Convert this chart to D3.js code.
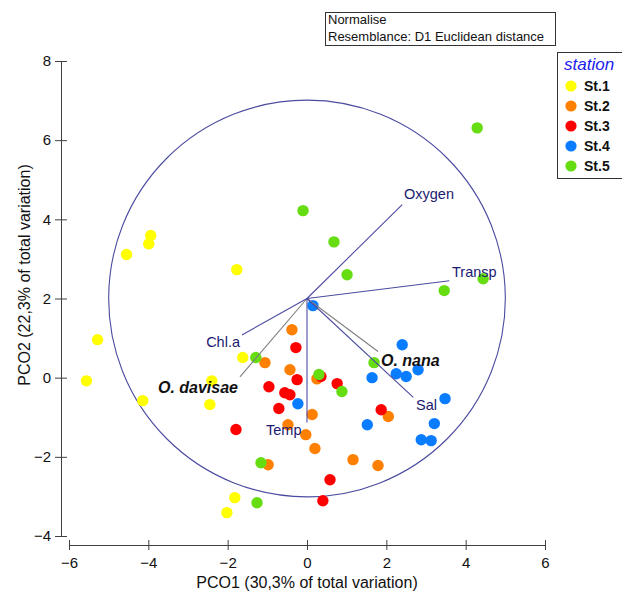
<!DOCTYPE html>
<html><head><meta charset="utf-8">
<script src="https://cdn.jsdelivr.net/npm/d3@7"></script>
<style>body{margin:0;background:#fff}svg{display:block;font-family:"Liberation Sans",Arial,sans-serif}</style>
</head><body><svg id="c" width="622" height="591"></svg>
<script>
const stations = ["St.1","St.2","St.3","St.4","St.5"];
const stationColors = ["#ffff00","#ff7f00","#ff0000","#0a7cff","#66dd11"];
const st1 = [[-3.94,3.59],[-3.99,3.38],[-4.55,3.11],[-1.77,2.73],[-5.28,0.96],[-5.56,-0.08],[-4.14,-0.58],[-2.40,-0.08],[-2.45,-0.68],[-1.62,0.51],[-1.82,-3.03],[-2.02,-3.41]];
const st2 = [[-0.38,1.21],[-1.06,0.38],[-0.43,0.20],[0.25,-0.03],[0.13,-0.93],[-0.48,-1.19],[-0.03,-1.44],[0.20,-1.79],[-0.98,-2.20],[1.16,-2.07],[1.79,-2.22],[2.05,-0.98]];
const st3 = [[-0.28,0.76],[-0.25,-0.05],[-0.96,-0.23],[-0.56,-0.38],[-0.43,-0.43],[-0.71,-0.78],[-1.79,-1.31],[0.35,0.03],[0.76,-0.15],[1.87,-0.81],[0.58,-2.58],[0.40,-3.11]];
const st4 = [[0.15,1.82],[-0.23,-0.66],[1.52,-1.19],[1.64,0.00],[2.40,0.83],[2.25,0.10],[2.50,0.03],[2.80,0.20],[3.48,-0.53],[3.21,-1.16],[2.88,-1.57],[3.13,-1.59]];
const st5 = [[4.29,6.31],[-0.10,4.22],[0.68,3.43],[1.01,2.60],[3.46,2.20],[4.44,2.50],[-1.29,0.51],[0.30,0.08],[0.88,-0.35],[1.69,0.38],[-1.16,-2.15],[-1.26,-3.16]];
const seriesValues = [st1, st2, st3, st4, st5];
const vectorOrigin = [0, 2];
const circleRadius = 5;
const envVectors = [
  {name:"Oxygen", end:[2.40,4.37]},
  {name:"Transp", end:[3.59,2.45]},
  {name:"Chl.a", end:[-1.64,1.08]},
  {name:"Temp", end:[0,-1.13]},
  {name:"Sal", end:[2.68,-0.50]}
];
const speciesVectors = [
  {name:"O. nana", end:[1.79,0.66]},
  {name:"O. davisae", end:[-1.69,0.02]}
];
const xTicks = [-6,-4,-2,0,2,4,6];
const yTicks = [-4,-2,0,2,4,6,8];
const xTitle = "PCO1 (30,3% of total variation)";
const yTitle = "PCO2 (22,3% of total variation)";
const noteLines = ["Normalise","Resemblance: D1 Euclidean distance"];

const svg = d3.select("#c");
const x = d3.scaleLinear().domain([-6,6]).range([69,545]);
const y = d3.scaleLinear().domain([-4,8]).range([536,61]);
const axisColor = "#404040";

// X axis
const gx = svg.append("g").attr("transform","translate(0,545)")
  .call(d3.axisBottom(x).tickValues(xTicks).tickSize(5).tickSizeOuter(0).tickFormat(d3.format("d")));
gx.select(".domain").attr("stroke",axisColor);
gx.selectAll(".tick line").attr("y1",-5).attr("stroke",axisColor);
gx.selectAll(".tick text").attr("font-size",15).attr("fill","#111").attr("font-family","Liberation Sans, Arial").attr("dy","1em");
// Y axis
const gy = svg.append("g").attr("transform","translate(61,0)")
  .call(d3.axisLeft(y).tickValues(yTicks).tickSize(6).tickSizeOuter(0).tickFormat(d3.format("d")));
gy.select(".domain").attr("stroke",axisColor);
gy.selectAll(".tick line").attr("x1",6).attr("stroke",axisColor);
gy.selectAll(".tick text").attr("font-size",15).attr("fill","#111").attr("font-family","Liberation Sans, Arial").attr("x",-10);

svg.append("text").attr("x",307).attr("y",588).attr("text-anchor","middle").attr("font-size",16).attr("fill","#111").text(xTitle);
svg.append("text").attr("transform","translate(30,275) rotate(-90)").attr("text-anchor","middle").attr("font-size",16).attr("fill","#111").text(yTitle);

// circle
const cx = x(vectorOrigin[0]), cy = y(vectorOrigin[1]);
svg.append("circle").attr("cx",cx).attr("cy",cy).attr("r",x(circleRadius)-x(0))
  .attr("fill","none").attr("stroke","#4b4ba0").attr("stroke-width",1.1);

// points
stations.forEach((s,i)=>{
  svg.append("g").selectAll("circle").data(seriesValues[i]).join("circle")
    .attr("cx",d=>x(d[0])).attr("cy",d=>y(d[1])).attr("r",5.7).attr("fill",stationColors[i]);
});

// vectors
svg.append("g").selectAll("line").data(speciesVectors).join("line")
  .attr("x1",cx).attr("y1",cy).attr("x2",d=>x(d.end[0])).attr("y2",d=>y(d.end[1]))
  .attr("stroke","#808080").attr("stroke-width",1.1);
svg.append("g").selectAll("line").data(envVectors).join("line")
  .attr("x1",cx).attr("y1",cy).attr("x2",d=>x(d.end[0])).attr("y2",d=>y(d.end[1]))
  .attr("stroke","#4b4ba0").attr("stroke-width",1.1);

const envLabelPos = {"Oxygen":[404,199,"start"],"Transp":[452,277,"start"],"Chl.a":[240,347,"end"],"Temp":[266,435,"start"],"Sal":[416,410,"start"]};
svg.append("g").selectAll("text").data(envVectors).join("text")
  .attr("x",d=>envLabelPos[d.name][0]).attr("y",d=>envLabelPos[d.name][1]).attr("text-anchor",d=>envLabelPos[d.name][2])
  .attr("font-size",14.5).attr("fill","#1a1a70").text(d=>d.name);
const spLabelPos = {"O. nana":[381,366,"start"],"O. davisae":[238,393,"end"]};
svg.append("g").selectAll("text").data(speciesVectors).join("text")
  .attr("x",d=>spLabelPos[d.name][0]).attr("y",d=>spLabelPos[d.name][1]).attr("text-anchor",d=>spLabelPos[d.name][2])
  .attr("font-size",16).attr("font-weight","bold").attr("font-style","italic").attr("fill","#111").text(d=>d.name);

// note box
svg.append("rect").attr("x",325.5).attr("y",12.5).attr("width",230).attr("height",33).attr("fill","#fff").attr("stroke","#333");
svg.append("g").selectAll("text").data(noteLines).join("text")
  .attr("x",328).attr("y",(d,i)=>24+i*17).attr("font-size",13).attr("fill","#111").text(d=>d);

// legend
svg.append("rect").attr("x",557.5).attr("y",52.5).attr("width",70).attr("height",126).attr("fill","#fff").attr("stroke","#333");
svg.append("text").attr("x",564).attr("y",70).attr("font-size",17).attr("font-style","italic").attr("fill","#2020ee").text("station");
const leg = svg.append("g").selectAll("g").data(stations).join("g").attr("transform",(d,i)=>`translate(0,${86+i*20})`);
leg.append("circle").attr("cx",571).attr("cy",0).attr("r",5.6).attr("fill",(d,i)=>stationColors[i]);
leg.append("text").attr("x",584).attr("y",5).attr("font-size",14).attr("font-weight","bold").attr("fill","#111").text(d=>d);
</script></body></html>
